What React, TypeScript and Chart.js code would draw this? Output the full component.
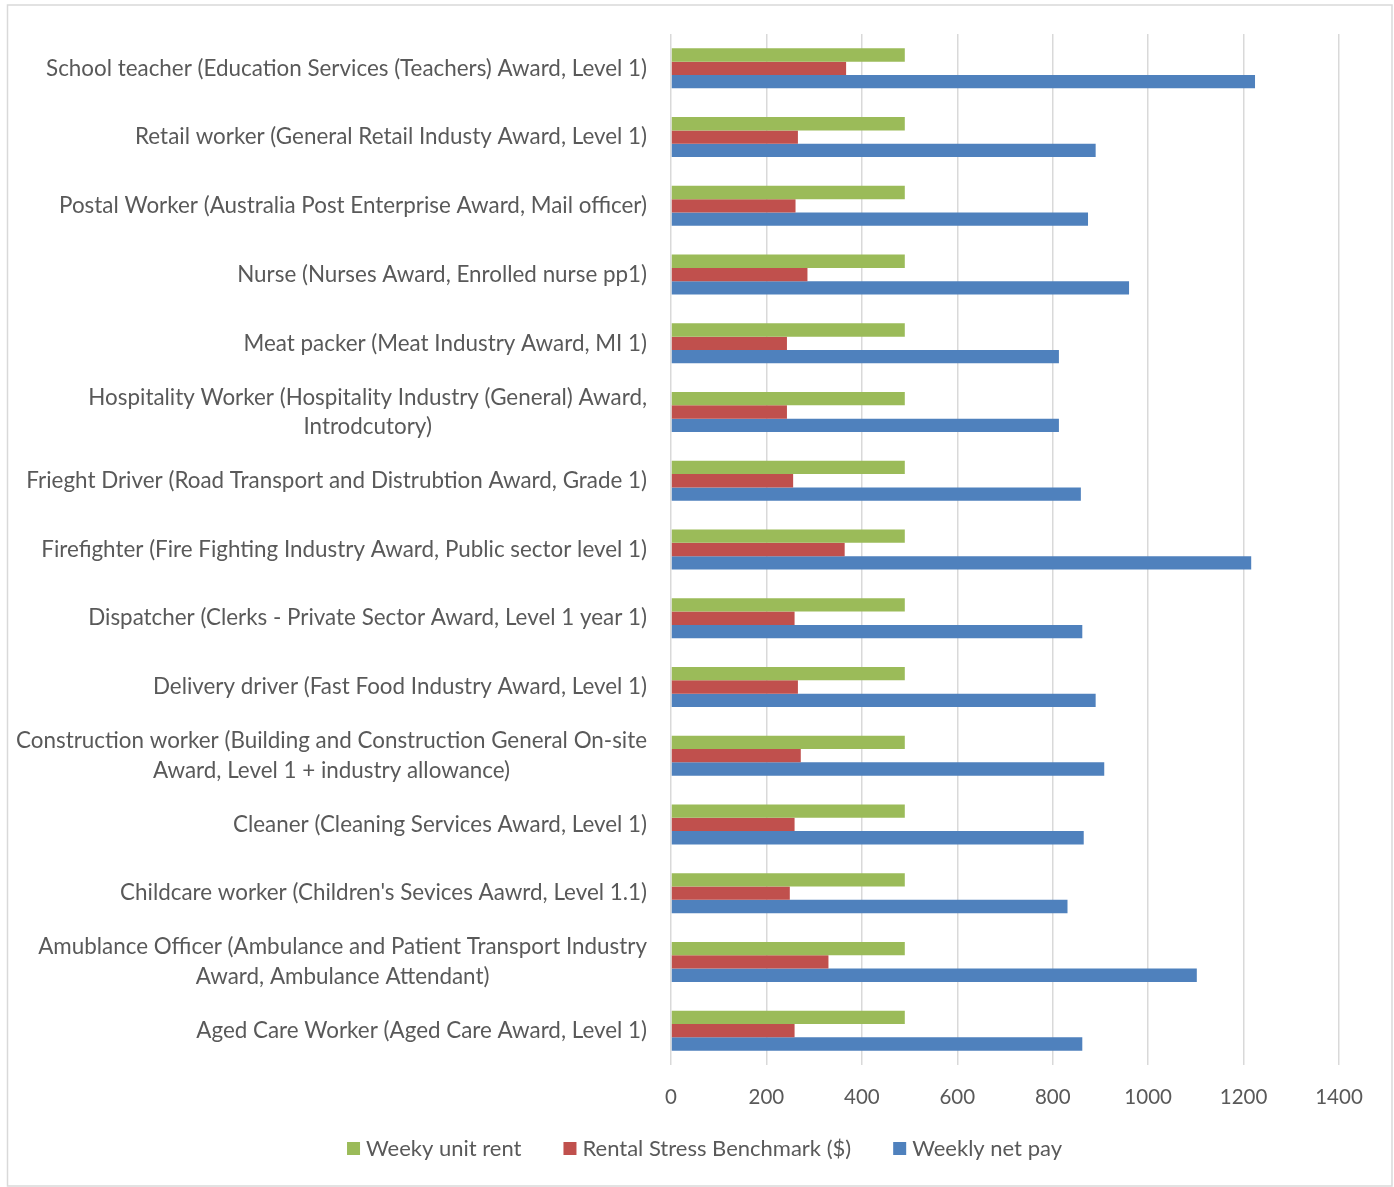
import React, { useEffect, useRef } from "react";
import { Chart, registerables } from "chart.js";

Chart.register(...registerables);

const categories: (string | string[])[] = [
  "School teacher (Education Services (Teachers) Award, Level 1)",
  "Retail worker (General Retail Industy Award, Level 1)",
  "Postal Worker (Australia Post Enterprise Award, Mail officer)",
  "Nurse (Nurses Award, Enrolled nurse pp1)",
  "Meat packer (Meat Industry Award, MI 1)",
  ["Hospitality Worker (Hospitality Industry (General) Award,", "Introdcutory)"],
  "Frieght Driver (Road Transport and Distrubtion Award, Grade 1)",
  "Firefighter (Fire Fighting Industry Award, Public sector level 1)",
  "Dispatcher (Clerks - Private Sector Award, Level 1 year 1)",
  "Delivery driver (Fast Food Industry Award, Level 1)",
  ["Construction worker (Building and Construction General On-site", "Award, Level 1 + industry allowance)"],
  "Cleaner (Cleaning Services Award, Level 1)",
  "Childcare worker (Children's Sevices Aawrd, Level 1.1)",
  ["Amublance Officer (Ambulance and Patient Transport Industry", "Award, Ambulance Attendant)"],
  "Aged Care Worker (Aged Care Award, Level 1)",
];

const weeklyUnitRent = [490, 490, 490, 490, 490, 490, 490, 490, 490, 490, 490, 490, 490, 490, 490];
const rentalStressBenchmark = [367, 266, 261, 286, 243, 243, 256, 364, 259, 266, 272, 259, 249, 330, 259];
const weeklyNetPay = [1224, 890, 874, 960, 813, 813, 859, 1216, 862, 890, 908, 865, 831, 1102, 862];

const seriesNames = ["Weeky unit rent", "Rental Stress Benchmark ($)", "Weekly net pay"];
const seriesColors = ["#9bbb59", "#c0504d", "#4f81bd"];
const xTicks = [0, 200, 400, 600, 800, 1000, 1200, 1400];

const FONT = "Lato";
const TEXT = "#595959";
const GRID = "#d9d9d9";

const framePlugin = {
  id: "frame",
  beforeDraw(chart: any) {
    const { ctx, width, height } = chart;
    ctx.save();
    ctx.fillStyle = "#ffffff";
    ctx.fillRect(0, 0, width, height);
    ctx.strokeStyle = GRID;
    ctx.lineWidth = 1.5;
    ctx.strokeRect(7.5, 5, 1384.5, 1181);
    ctx.restore();
  },
};

const yLabelPlugin = {
  id: "yLabels",
  afterDraw(chart: any) {
    const { ctx } = chart;
    const yScale = chart.scales.y;
    ctx.save();
    ctx.font = `22.4px ${FONT}`;
    ctx.fillStyle = TEXT;
    ctx.textAlign = "center";
    ctx.textBaseline = "middle";
    const rightEdge = yScale.right - 24;
    const lineH = 29.5;
    categories.forEach((lab, i) => {
      const lines = Array.isArray(lab) ? lab : [lab];
      const widest = Math.max(...lines.map((l) => ctx.measureText(l).width));
      const cx = rightEdge - widest / 2;
      const cy = yScale.getPixelForValue(i);
      const y0 = cy - ((lines.length - 1) * lineH) / 2;
      lines.forEach((l, j) => ctx.fillText(l, cx, y0 + j * lineH));
    });
    ctx.restore();
  },
};

const legendPlugin = {
  id: "bottomLegend",
  afterDraw(chart: any) {
    const { ctx } = chart;
    const ds = chart.data.datasets;
    const box = 13;
    const gapText = 6;
    const gapItem = 42;
    const cy = 1148.5;
    ctx.save();
    ctx.font = `22px ${FONT}`;
    ctx.textBaseline = "middle";
    ctx.textAlign = "left";
    const widths = ds.map((d: any) => box + gapText + ctx.measureText(d.label).width);
    const total = widths.reduce((a: number, b: number) => a + b, 0) + gapItem * (ds.length - 1);
    let x = 704.5 - total / 2;
    ds.forEach((d: any, i: number) => {
      ctx.fillStyle = d.backgroundColor;
      ctx.fillRect(x, cy - box / 2, box, box);
      ctx.fillStyle = TEXT;
      ctx.fillText(d.label, x + box + gapText, cy);
      x += widths[i] + gapItem;
    });
    ctx.restore();
  },
};

export default function App() {
  const ref = useRef<HTMLCanvasElement | null>(null);
  useEffect(() => {
    if (!ref.current) return;
    const chart = new Chart(ref.current, {
      type: "bar",
      data: {
        labels: categories,
        datasets: [
          { label: seriesNames[0], data: weeklyUnitRent, backgroundColor: seriesColors[0], borderWidth: 0 },
          { label: seriesNames[1], data: rentalStressBenchmark, backgroundColor: seriesColors[1], borderWidth: 0 },
          { label: seriesNames[2], data: weeklyNetPay, backgroundColor: seriesColors[2], borderWidth: 0 },
        ],
      },
      options: {
        indexAxis: "y",
        responsive: false,
        animation: false,
        layout: { padding: { top: 34, right: 55, bottom: 74, left: 0 } },
        datasets: { bar: { categoryPercentage: 0.582, barPercentage: 1 } },
        scales: {
          x: {
            type: "linear",
            min: 0,
            max: 1400,
            afterBuildTicks: (scale: any) => {
              scale.ticks = xTicks.map((v) => ({ value: v }));
            },
            afterFit: (scale: any) => {
              scale.height = 48;
            },
            ticks: {
              color: TEXT,
              font: { family: FONT, size: 20.5 },
              padding: 20,
              callback: (v: any) => String(v),
            },
            grid: { color: GRID, lineWidth: 1.5, drawTicks: false },
            border: { display: false },
          },
          y: {
            type: "category",
            ticks: { display: false },
            grid: { display: false },
            border: { display: false },
            afterFit: (scale: any) => {
              scale.width = 671;
            },
          },
        },
        plugins: {
          legend: { display: false },
          tooltip: { enabled: true },
        },
      },
      plugins: [framePlugin, yLabelPlugin, legendPlugin],
    } as any);
    return () => chart.destroy();
  }, []);
  return (
    <div style={{ position: "absolute", left: 0, top: 0, width: 1394, height: 1187 }}>
      <canvas ref={ref} width={1394} height={1187} style={{ width: 1394, height: 1187, display: "block" }} />
    </div>
  );
}
